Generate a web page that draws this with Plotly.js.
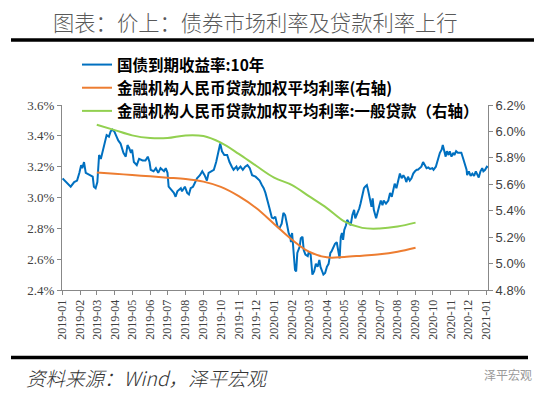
<!DOCTYPE html>
<html>
<head>
<meta charset="utf-8">
<script src="https://cdn.plot.ly/plotly-3.0.1.min.js"></script>
<style>
html,body{margin:0;padding:0;background:#fff;}
#chart{width:550px;height:398px;}
</style>
</head>
<body>
<div id="chart"></div>
<script>
// ---- Data ----
// 10Y government bond yield (left axis, %), x given as days after 2019-01-01
const bondDays = [0,6,11,14,20,25,29,32,34,37,40,46,52,54,57,60,63,66,69,73,76,80,83,86,89,92,96,100,105,109,112,115,118,120,123,128,132,138,143,147,150,152,157,161,165,169,175,178,181,183,187,192,195,198,204,206,211,215,218,221,225,229,232,237,241,245,249,252,256,261,265,269,272,275,279,284,288,292,295,300,302,307,311,315,319,323,327,333,337,340,344,347,350,353,357,361,364,367,371,374,378,381,384,387,390,393,394,396,398,401,403,405,409,411,414,416,419,423,425,428,431,434,437,440,443,445,448,450,453,456,459,462,464,467,470,473,476,478,480,482,484,486,489,491,495,497,500,503,505,509,512,514,517,520,522,525,527,530,533,535,537,541,543,546,549,552,554,558,562,565,568,570,573,576,579,582,585,588,591,593,596,599,602,605,608,611,613,616,619,622,625,628,631,634,638,640,644,648,651,654,656,658,661,663,666,668,671,674,676,679,682,685,688,691,694,697,698,701,704,707,710,713,716,718,721,724,726,729,732,734];
const bondYield = [3.124,3.10,3.08,3.07,3.10,3.11,3.16,3.21,3.19,3.23,3.16,3.145,3.135,3.07,3.06,3.10,3.276,3.25,3.30,3.37,3.405,3.395,3.43,3.44,3.43,3.405,3.37,3.35,3.29,3.265,3.34,3.32,3.29,3.31,3.23,3.21,3.25,3.24,3.24,3.265,3.23,3.18,3.17,3.19,3.16,3.19,3.17,3.19,3.16,3.07,3.05,3.03,3.005,3.04,3.06,3.04,3.07,3.03,3.02,3.06,3.07,3.10,3.125,3.145,3.17,3.145,3.11,3.16,3.17,3.18,3.23,3.29,3.35,3.30,3.276,3.276,3.23,3.20,3.18,3.20,3.18,3.20,3.18,3.20,3.21,3.19,3.145,3.135,3.124,3.11,3.08,3.06,3.03,2.98,2.93,2.87,2.865,2.876,2.81,2.80,2.83,2.90,2.886,2.83,2.77,2.745,2.71,2.77,2.68,2.53,2.52,2.64,2.68,2.735,2.745,2.66,2.63,2.62,2.65,2.63,2.50,2.52,2.57,2.55,2.595,2.55,2.52,2.50,2.51,2.55,2.57,2.64,2.65,2.68,2.70,2.71,2.66,2.605,2.745,2.77,2.725,2.79,2.82,2.855,2.83,2.82,2.886,2.92,2.865,2.90,2.93,2.96,3.005,3.06,3.07,3.08,3.05,2.98,2.94,2.995,2.92,2.865,2.90,2.94,2.98,2.95,2.98,2.96,2.98,3.03,3.005,3.05,3.09,3.06,3.11,3.155,3.125,3.145,3.125,3.10,3.135,3.11,3.125,3.155,3.17,3.18,3.18,3.19,3.20,3.23,3.21,3.19,3.195,3.185,3.19,3.18,3.20,3.255,3.29,3.31,3.34,3.31,3.265,3.30,3.276,3.30,3.265,3.29,3.276,3.30,3.29,3.29,3.29,3.255,3.21,3.18,3.145,3.17,3.14,3.155,3.14,3.17,3.145,3.13,3.17,3.19,3.17,3.18,3.20,3.195];

// Weighted average loan rates (right axis, %), monthly positions
const loanMonths = ['2019-03','2019-04','2019-05','2019-06','2019-07','2019-08','2019-09','2019-10','2019-11','2019-12','2020-01','2020-02','2020-03','2020-04','2020-05','2020-06','2020-07','2020-08','2020-09'];
const loanRate    = [5.69,5.68,5.67,5.66,5.65,5.64,5.62,5.58,5.51,5.42,5.30,5.18,5.09,5.047,5.05,5.06,5.07,5.09,5.12];
const generalLoanRate = [6.05,6.01,5.97,5.95,5.95,5.97,5.965,5.915,5.83,5.74,5.65,5.594,5.51,5.42,5.32,5.27,5.265,5.28,5.31];

const tickLabels = ['2019-01','2019-02','2019-03','2019-04','2019-05','2019-06','2019-07','2019-08','2019-09','2019-10','2019-11','2019-12','2020-01','2020-02','2020-03','2020-04','2020-05','2020-06','2020-07','2020-08','2020-09','2020-10','2020-11','2020-12','2021-01'];

const seriesNames = ['国债到期收益率:10年','金融机构人民币贷款加权平均利率(右轴)','金融机构人民币贷款加权平均利率:一般贷款（右轴）'];

// ---- Build traces ----
const base = Date.UTC(2019,0,1);
const bondDates = bondDays.map(d => new Date(base + d*86400000).toISOString().slice(0,10));
const loanDates = loanMonths.map(m => m + '-01');

const traces = [
  {x: bondDates, y: bondYield, name: seriesNames[0], type:'scatter', mode:'lines',
   line:{color:'#0070C0', width:2}, yaxis:'y'},
  {x: loanDates, y: loanRate, name: seriesNames[1], type:'scatter', mode:'lines',
   line:{color:'#ED7D31', width:2, shape:'spline', smoothing:1}, yaxis:'y2'},
  {x: loanDates, y: generalLoanRate, name: seriesNames[2], type:'scatter', mode:'lines',
   line:{color:'#92D050', width:2, shape:'spline', smoothing:1}, yaxis:'y2'}
];

// plot area: x 62..488, y 105..290
const L=62, R=488, T=105, B=290;
const px = x => (x-L)/(R-L);
const py = y => (B-y)/(B-T);
const serif = 'Times New Roman, Liberation Serif, serif';

const layout = {
  width:550, height:398,
  margin:{l:L, r:550-R, t:T, b:398-B, pad:0},
  paper_bgcolor:'#fff', plot_bgcolor:'#fff',
  showlegend:true,
  legend:{x:px(77), y:py(48), xanchor:'left', yanchor:'top', bgcolor:'rgba(0,0,0,0)',
    font:{family:'Noto Sans CJK SC, sans-serif', size:15.5, color:'#000', weight:'bold'},
    itemwidth:30, tracegroupgap:0},
  xaxis:{type:'date', range:['2018-12-31','2021-01-04'],
    tickmode:'array', tickvals: tickLabels.map(t=>t+'-01'), ticktext: tickLabels,
    tickangle:-90, ticks:'outside', ticklen:4, tickcolor:'#888',
    showline:true, linecolor:'#888', linewidth:1, showgrid:false, zeroline:false,
    tickfont:{family:serif, size:12, color:'#404040'}},
  yaxis:{range:[2.4,3.6], dtick:0.2, tick0:2.4, tickformat:'.1f', ticksuffix:'%',
    ticks:'outside', ticklen:4, tickcolor:'#888',
    showline:true, linecolor:'#888', linewidth:1, showgrid:false, zeroline:false,
    tickfont:{family:serif, size:13, color:'#404040'}},
  yaxis2:{range:[4.8,6.2], dtick:0.2, tick0:4.8, tickformat:'.1f', ticksuffix:'%',
    overlaying:'y', side:'right',
    ticks:'outside', ticklen:4, tickcolor:'#888',
    showline:true, linecolor:'#888', linewidth:1, showgrid:false, zeroline:false,
    tickfont:{family:'Arial, Liberation Sans, sans-serif', size:13, color:'#404040'}},
  shapes:[
    {type:'line', xref:'paper', yref:'paper', x0:px(11), x1:px(534), y0:py(40), y1:py(40),
     line:{color:'#000', width:3.5}},
    {type:'line', xref:'paper', yref:'paper', x0:px(11), x1:px(528), y0:py(357.5), y1:py(357.5),
     line:{color:'#000', width:3.5}}
  ],
  annotations:[
    {text:'图表：价上：债券市场利率及贷款利率上行', xref:'paper', yref:'paper',
     x:px(255), y:py(22), xanchor:'center', yanchor:'middle', showarrow:false,
     font:{family:'Noto Sans CJK SC, sans-serif', size:21.3, color:'#595959', weight:300}},
    {text:'资料来源：Wind，泽平宏观', xref:'paper', yref:'paper',
     x:px(24), y:py(377), xanchor:'left', yanchor:'middle', showarrow:false,
     font:{family:'Noto Sans CJK SC, sans-serif', size:19.5, color:'#333', style:'italic', weight:300}},
    {text:'泽平宏观', xref:'paper', yref:'paper',
     x:px(534), y:py(374), xanchor:'right', yanchor:'middle', showarrow:false,
     font:{family:'Noto Sans CJK SC, sans-serif', size:12, color:'#999'}}
  ]
};

Plotly.newPlot('chart', traces, layout, {displayModeBar:false, staticPlot:true});
</script>
</body>
</html>
